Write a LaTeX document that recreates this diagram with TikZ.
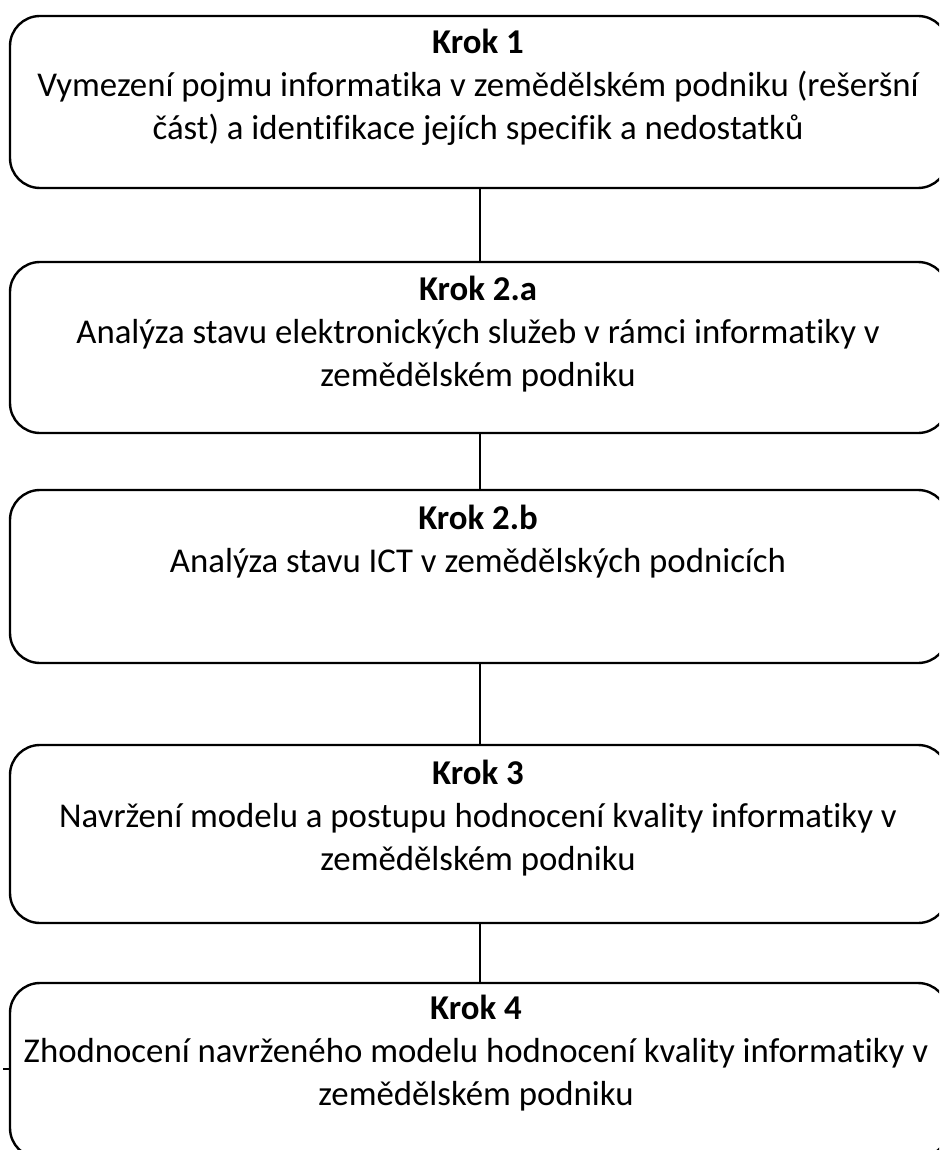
\documentclass[tikz,border=0pt]{standalone}
\usepackage{fontspec}
\setmainfont{Carlito}[Ligatures=NoCommon]
\begin{document}
\begin{tikzpicture}[x=1pt,y=-1pt,
  stepbox/.style={draw=black,line width=2.4pt,rounded corners=30pt,fill=none},
  steptext/.style={anchor=north,align=center,inner sep=0pt,
    font=\fontsize{34.8}{43}\selectfont},
  link/.style={draw=black,line width=2pt}]
\useasboundingbox (0,0) rectangle (939,1150);
\clip (0,0) rectangle (939,1150);
% step boxes (right side runs past the page edge)
\path[stepbox] (10,16) rectangle (948,188) coordinate[pos=.5] (b1);
\path[stepbox] (10,262) rectangle (948,433) coordinate[pos=.5] (b2);
\path[stepbox] (10,490) rectangle (948,663) coordinate[pos=.5] (b3);
\path[stepbox] (10,745) rectangle (948,923) coordinate[pos=.5] (b4);
\path[stepbox] (10,983) rectangle (948,1158) coordinate[pos=.5] (b5);
% connectors between the boxes
\coordinate (c1a) at (480,188); \coordinate (c1b) at (480,262);
\coordinate (c2a) at (480,433); \coordinate (c2b) at (480,490);
\coordinate (c3a) at (480,663); \coordinate (c3b) at (480,745);
\coordinate (c4a) at (480,923); \coordinate (c4b) at (480,983);
\draw[link] (c1a) -- (c1b);
\draw[link] (c2a) -- (c2b);
\draw[link] (c3a) -- (c3b);
\draw[link] (c4a) -- (c4b);
\coordinate (t1) at (3,1069); \coordinate (t2) at (10,1069);
\draw[line width=1.5pt] (t1) -- (t2);
% texts
\node[steptext] (s1) at (478,29) {\textbf{Krok 1}\\Vymezení pojmu informatika v zemědělském podniku (rešeršní\\část) a identifikace jejích specifik a nedostatků};
\node[steptext] (s2) at (478,276) {\textbf{Krok 2.a}\\Analýza stavu elektronických služeb v rámci informatiky v\\zemědělském podniku};
\node[steptext] (s3) at (478,505) {\textbf{Krok 2.b}\\Analýza stavu ICT v zemědělských podnicích};
\node[steptext] (s4) at (478,760) {\textbf{Krok 3}\\Navržení modelu a postupu hodnocení kvality informatiky v\\zemědělském podniku};
\node[steptext] (s5) at (476,995) {\textbf{Krok 4}\\Zhodnocení navrženého modelu hodnocení kvality informatiky v\\zemědělském podniku};
\end{tikzpicture}
\end{document}
